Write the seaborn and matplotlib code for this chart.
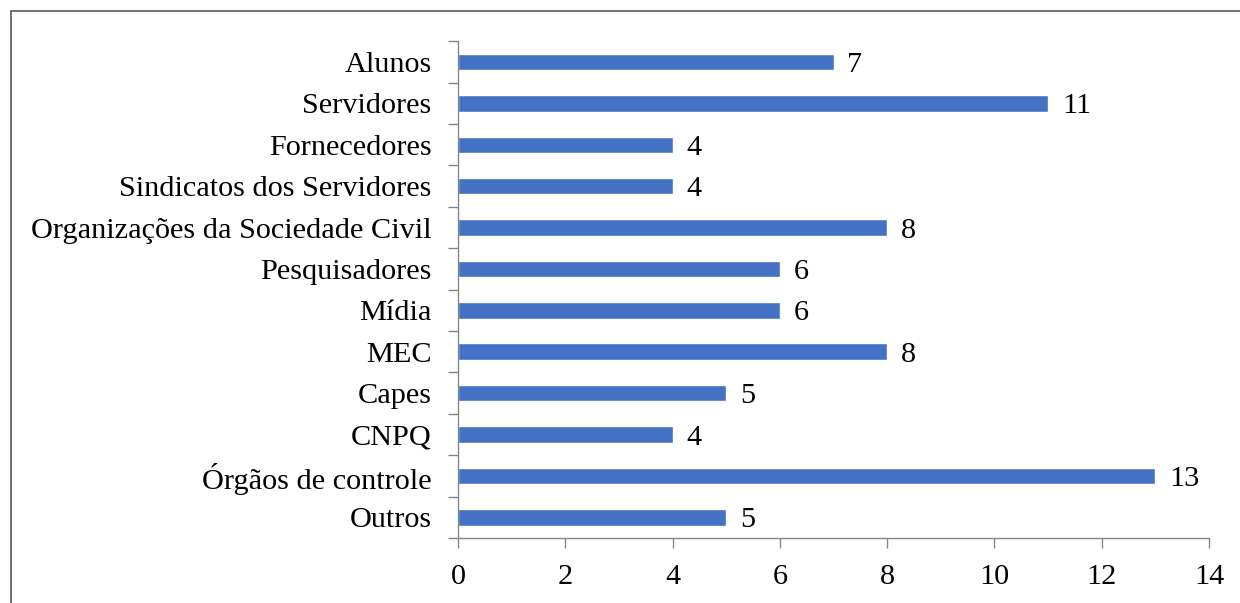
import matplotlib
matplotlib.use("Agg")
import matplotlib.pyplot as plt
import seaborn as sns
import pandas as pd
import numpy as np
from matplotlib.patches import Rectangle

categories = ["Alunos", "Servidores", "Fornecedores", "Sindicatos dos Servidores",
              "Organizações da Sociedade Civil", "Pesquisadores", "Mídia", "MEC",
              "Capes", "CNPQ", "Órgãos de controle", "Outros"]
values = [7, 11, 4, 4, 8, 6, 6, 8, 5, 4, 13, 5]
x_ticks = [0, 2, 4, 6, 8, 10, 12, 14]

sns.set_theme(style="white")
plt.rcParams['font.family'] = ['Liberation Serif', 'DejaVu Serif']

df = pd.DataFrame({"cat": categories, "val": values})

fig = plt.figure(figsize=(12.4, 6.03), dpi=100)
ax = fig.add_axes([458/1240, 1-538/603, (1209-458)/1240, (538-41.3)/603])

sns.barplot(data=df, x="val", y="cat", orient="h", color="#4472C4",
            width=0.4, saturation=1, ax=ax)

ax.set_xlim(0, 14)
ax.set_ylim(len(categories)-0.5, -0.5)
ax.set_xticks(x_ticks)
ax.set_xlabel("")
ax.set_ylabel("")

spine_c = "#868686"
for s in ["top", "right"]:
    ax.spines[s].set_visible(False)
for s in ["left", "bottom"]:
    ax.spines[s].set_color(spine_c)
    ax.spines[s].set_linewidth(1.0)

fs = 21.8
ax.tick_params(axis="y", which="major", length=0, pad=19, labelsize=fs, labelcolor="black")
ax.set_yticks(np.arange(-0.5, len(categories)), minor=True)
ax.tick_params(axis="y", which="minor", length=7, color=spine_c, width=1, left=True)
ax.tick_params(axis="x", which="major", length=7, color=spine_c, width=1,
               bottom=True, pad=12, labelsize=fs, labelcolor="black")

for c in ax.containers:
    texts = ax.bar_label(c, labels=[str(v) for v in values], padding=10, fontsize=fs, color="black")
    for t in texts:
        t.set_va("center_baseline")

fig.patches.append(Rectangle((11/1240, -0.1), 1.2, 1 - 11/603 + 0.1,
                             transform=fig.transFigure, fill=False,
                             edgecolor="#595959", linewidth=1.2))

fig.savefig("out.png", dpi=100)
